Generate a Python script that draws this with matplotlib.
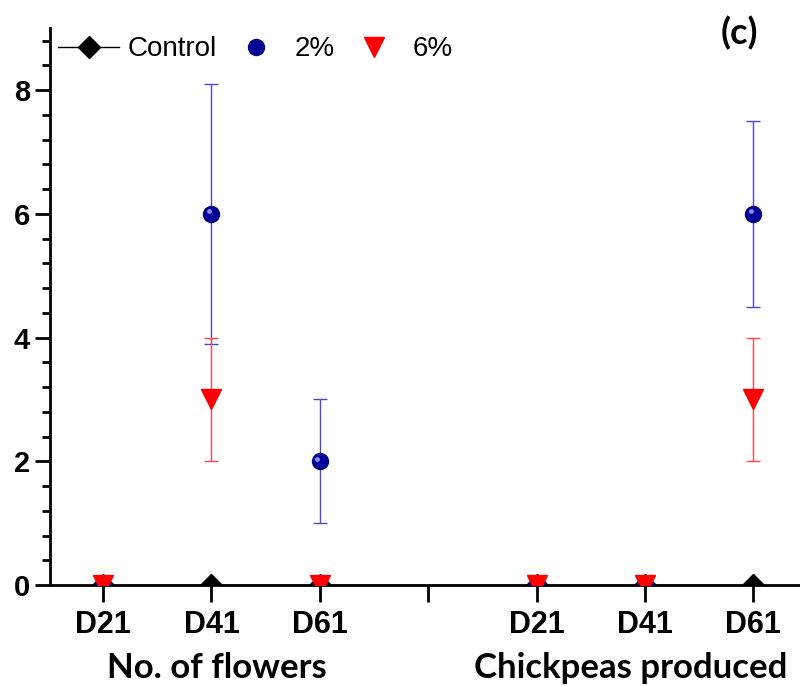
import numpy as np
import matplotlib
matplotlib.use('Agg')
import matplotlib.pyplot as plt
from matplotlib import transforms
from matplotlib.ticker import MultipleLocator

# positions on x axis (4 is an unlabeled separator tick)
x_pos = [1, 2, 3, 5, 6, 7]
tick_pos = [1, 2, 3, 4, 5, 6, 7]
tick_labels = ['D21', 'D41', 'D61', '', 'D21', 'D41', 'D61']
groups = ['No. of flowers', 'Chickpeas produced']
group_x = [2.05, 5.87]

control = [0, 0, 0, 0, 0, 0]
p2 = [0, 6, 2, 0, 0, 6]
p2_err = [0, 2.1, 1, 0, 0, 1.5]
p6 = [0, 3, 0, 0, 0, 3]
p6_err = [0, 1, 0, 0, 0, 1]

fig = plt.figure(figsize=(8, 6.86), dpi=100)
ax = fig.add_axes([0.0625, 0.147, 0.9375, 0.812])

ax.plot(x_pos, control, color='black', lw=1, marker='D', ms=11, label='Control', zorder=3)

x2 = [x for x, e in zip(x_pos, p2_err) if e > 0]
y2 = [y for y, e in zip(p2, p2_err) if e > 0]
e2 = [e for e in p2_err if e > 0]
ax.errorbar(x2, y2, yerr=e2, fmt='none', ecolor='#4a4acc', elinewidth=1, capsize=5, capthick=1, zorder=2)
x6 = [x for x, e in zip(x_pos, p6_err) if e > 0]
y6 = [y for y, e in zip(p6, p6_err) if e > 0]
e6 = [e for e in p6_err if e > 0]
ax.errorbar(x6, y6, yerr=e6, fmt='none', ecolor='#ff4a4a', elinewidth=1, capsize=5, capthick=1, zorder=2)

ax.plot(x_pos, p2, ls='none', marker='o', ms=11.5, color='#000099', mec='#000077', label='2%', zorder=4)
# highlight on the spheres
hl = transforms.offset_copy(ax.transData, fig=fig, x=-2, y=2, units='points')
ax.plot(x_pos, p2, ls='none', marker='o', ms=3.5, color='#aab0ff', mec='none', alpha=0.8,
        transform=hl, zorder=5)
ax.plot(x_pos, p6, ls='none', marker='v', ms=14, color='#ff0000', mec='#ff0000', label='6%', zorder=6)

ax.set_xlim(0.51, 7.43)
ax.set_ylim(0, 9)
ax.set_xticks(tick_pos)
ax.set_xticklabels(tick_labels)
ax.yaxis.set_major_locator(MultipleLocator(2))
ax.yaxis.set_minor_locator(MultipleLocator(0.4))
ax.set_yticks([0, 2, 4, 6, 8])

for s in ['top', 'right']:
    ax.spines[s].set_visible(False)
for s in ['left', 'bottom']:
    ax.spines[s].set_linewidth(2)

ax.tick_params(axis='y', which='major', length=11, width=2, direction='out')
ax.tick_params(axis='y', which='minor', length=6, width=2, direction='out')
ax.tick_params(axis='x', which='major', length=12, width=2, direction='out', pad=6)

for lab in ax.get_yticklabels():
    lab.set_fontfamily(['Liberation Sans', 'DejaVu Sans'])
    lab.set_fontweight('bold')
    lab.set_fontsize(21)
for lab in ax.get_xticklabels():
    lab.set_fontfamily(['Liberation Sans Narrow', 'Liberation Sans', 'DejaVu Sans'])
    lab.set_fontweight('bold')
    lab.set_fontsize(22)

blend = transforms.blended_transform_factory(ax.transData, fig.transFigure)
for gx, gname in zip(group_x, groups):
    ax.text(gx, 0.026, gname, transform=blend, ha='center', va='center',
            fontsize=25, fontweight='bold', family=['Lato', 'DejaVu Sans'])

fig.text(0.924, 0.952, '(c)', ha='center', va='center', fontsize=26, fontweight='bold',
         family=['Lato', 'DejaVu Sans'])

leg = ax.legend(loc='upper left', bbox_to_anchor=(0.0, 1.0), ncol=3, frameon=False,
                prop={'family': ['Liberation Sans', 'DejaVu Sans'], 'size': 20},
                handlelength=2.2, columnspacing=0.3, handletextpad=0.3, borderaxespad=0.1,
                borderpad=0.2)

fig.savefig('out.png', dpi=100)
